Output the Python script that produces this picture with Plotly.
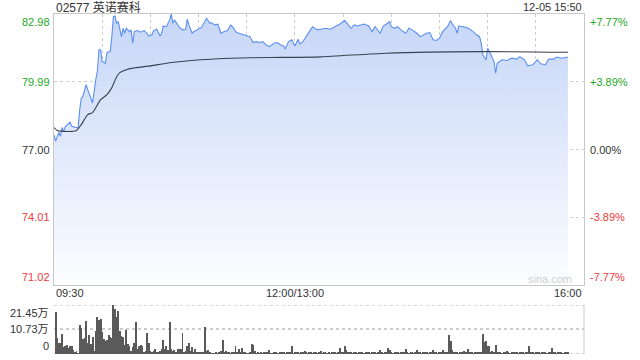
import plotly.graph_objects as go

# ---------------- data ----------------
prev_close = 77.00
y_ticks = [71.02, 74.01, 77.00, 79.99, 82.98]
pct_labels = ["-7.77%", "-3.89%", "0.00%", "+3.89%", "+7.77%"]
vol_ticks = [0, 10.73, 21.45]
vol_labels = ["0", "10.73万", "21.45万"]
x_labels = ["09:30", "12:00/13:00", "16:00"]

price_times = ["09:30","09:31","09:33","09:34","09:35","09:36","09:37","09:39","09:40","09:41","09:43","09:45",
 "09:46","09:47","09:48","09:50","09:51","09:53","09:54","09:56","09:57","09:58","09:59","10:00","10:02","10:03","10:05",
 "10:06","10:07","10:08","10:09","10:10","10:12","10:13","10:14","10:15","10:17","10:18","10:19","10:20","10:22","10:24","10:26","10:28","10:29",
 "10:31","10:32","10:34","10:36","10:37","10:38","10:40","10:42","10:43","10:44","10:45","10:47","10:48","10:50","10:52",
 "10:53","10:54","10:56","10:57","10:59","11:00","11:02","11:03","11:05","11:07","11:08","11:10","11:12","11:14","11:15","11:18","11:20","11:22","11:23","11:25",
 "11:28","11:30","11:32","11:34","11:36","11:38","11:40","11:42","11:44","11:47","11:49","11:51","11:53","11:54","11:56","11:58","12:00",
 "13:02","13:03","13:05","13:07","13:09","13:11","13:14","13:16",
 "13:19","13:22","13:25","13:28","13:31","13:33","13:35","13:37","13:39","13:43","13:46","13:48","13:50","13:53","13:55",
 "13:57","13:59","14:00","14:02","14:04","14:06","14:09","14:11","14:13","14:16","14:18","14:20","14:22","14:24","14:26","14:28","14:30",
 "14:32","14:35","14:37","14:38","14:40","14:41","14:42","14:45","14:48","14:51","14:53","14:55","14:56",
 "14:57","14:59","15:00","15:02","15:04","15:05","15:06","15:09","15:12","15:15","15:18","15:20","15:23","15:25","15:28","15:31","15:33",
 "15:36","15:38","15:41","15:43","15:46","15:50"]

prices = [77.66,77.37,77.75,77.58,77.97,77.80,78.00,78.14,78.20,78.02,77.98,77.95,
 78.76,79.27,79.34,79.86,79.64,79.23,79.05,80.08,80.44,81.40,81.40,80.88,80.81,81.28,81.32,
 81.98,82.86,82.89,82.57,82.64,81.98,82.35,82.13,82.35,82.20,82.28,81.69,82.20,82.25,82.18,82.25,82.13,82.01,
 82.06,82.25,82.31,82.01,82.13,82.45,82.42,82.72,82.98,82.57,82.72,82.50,82.40,82.28,82.31,
 82.75,82.50,82.13,82.20,82.28,82.31,82.40,82.54,82.79,82.57,82.60,82.50,82.53,82.13,82.18,82.25,82.50,82.35,82.20,82.13,
 82.06,82.01,81.98,81.72,81.76,81.72,81.76,81.62,81.54,81.69,81.72,81.62,81.57,81.43,81.76,81.84,81.57,
 81.87,81.66,81.76,81.96,82.20,82.42,82.28,82.31,
 82.35,82.31,82.42,82.54,82.69,82.54,82.35,82.50,82.45,82.54,82.45,82.20,82.42,82.13,82.45,
 82.54,82.64,82.42,82.35,82.42,82.28,82.13,82.35,82.28,82.13,81.98,82.06,82.13,82.16,81.84,81.81,81.91,
 82.20,82.42,82.69,82.54,82.35,82.13,82.45,82.42,82.35,82.20,82.06,81.98,81.69,
 81.18,80.96,81.47,81.18,80.88,80.37,80.81,80.96,80.93,81.03,80.99,81.10,80.96,80.69,80.74,80.96,80.78,
 80.74,80.99,80.99,81.08,81.03,81.08]

avg_times = ["09:30","09:32","09:36","09:44","09:47","09:51","09:54","09:59","10:03","10:06","10:09","10:11",
 "10:15","10:19","10:30","10:42","11:01","11:21","11:43","13:16","13:57","14:55","15:50"]
avg_prices = [77.97,77.84,77.80,77.84,78.10,78.54,78.63,79.20,79.42,79.73,80.21,80.39,
 80.52,80.59,80.69,80.83,80.96,81.03,81.06,81.09,81.25,81.32,81.29]

# volume per minute (万), one bar per trading minute from 09:31
volumes = [
 18.2,6.9,5.0,4.6,8.6,3.1,3.6,4.0,2.6,3.6, 3.6,1.7,0.7,1.3,0.4,12.9,11.2,6.4,7.2,14.6,
 4.7,8.2,4.3,7.6,1.4,10.0,16.0,14.7,15.4,9.6, 6.4,5.7,6.1,8.2,7.4,7.0,21.45,19.7,16.2,18.9,
 10.0,7.9,7.4,4.1,10.4,4.3,3.6,1.4,2.9,4.6, 13.9,2.1,3.6,3.9,3.6,1.0,1.4,9.3,5.0,1.4,
 1.0,1.4,2.4,1.0,0.7,1.4,2.4,6.0,2.1,3.6, 1.9,13.9,2.1,1.4,1.9,1.0,2.1,2.4,
 2.4,9.0,1.0,1.4,3.6,5.0,1.4,2.9,1.0,2.1, 1.0,0.7,1.0,0.7,0.7,11.9,1.4,1.9,0.7,0.4,
 0.4,0.4,0.7,0.4,0.7,1.4,6.0,1.0,1.4,0.7, 0.7,0.4,0.7,0.7,3.6,0.7,2.1,0.7,2.6,0.7,
 0.7,0.4,0.4,0.7,4.3,3.9,1.4,0.4,0.7,0.4, 1.0,0.4,0.7,1.0,0.7,1.7,0.4,0.4,0.7,0.7,
 0.4,0.4,0.7,0.7,1.0,0.4,0.7,1.0,0.7,3.6, 0.4,1.0,0.7,1.0,0.4,1.0,0.7,1.4,
 0.7,0.4,1.0,0.7,0.4,0.7,1.0,0.4,0.7,1.2, 0.4,0.7,1.0,0.4,0.7,0.4,0.7,1.0,0.7,0.4,
 0.7,2.6,1.0,0.7,3.3,1.9,0.7,1.0,0.7,0.4, 0.7,1.0,0.4,0.7,0.7,1.0,0.4,0.7,1.0,0.7,
 0.4,0.7,1.0,0.7,0.4,1.0,1.6,0.7,0.4,0.7, 0.7,2.6,1.6,0.7,0.4,1.0,0.7,1.0,0.4,0.7,
 1.0,0.7,2.2,0.7,0.4,0.7,1.0,0.4,0.7,1.6, 0.7,1.0,0.4,0.7,1.0,0.7,0.4,1.0,0.7,1.9,
 0.7,1.0,0.4,1.0,0.7,1.6,0.7,1.0,0.7,8.4, 5.8,1.9,0.7,1.0,0.7,0.4,1.0,0.7,1.4,0.7,
 1.0,2.2,0.7,1.0,0.4,0.7,1.0,0.7,0.7,1.0, 8.8,5.1,5.5,3.6,3.3,1.0,1.4,0.7,4.1,1.0,
 0.7,1.0,0.4,0.7,1.0,1.4,0.7,0.4,1.0,0.7, 0.7,1.0,0.4,0.7,1.0,0.7,0.4,1.0,0.7,3.6,
 1.0,0.7,0.4,1.0,0.7,1.0,0.4,0.7,1.0,0.7, 0.4,0.7,1.0,2.6,0.7,1.0,0.4,0.7,1.0,0.7,
 0.4,1.0,0.7,0.7]

# ---------------- helpers ----------------
def tmin(s):
    h, m = map(int, s.split(":"))
    mm = h * 60 + m
    if mm <= 12 * 60:
        return mm - (9 * 60 + 30)
    return mm - 13 * 60 + 150

def session_minutes(n):
    out = []
    for mm in list(range(9 * 60 + 31, 12 * 60 + 1)) + list(range(13 * 60 + 1, 16 * 60 + 1)):
        out.append("%02d:%02d" % (mm // 60, mm % 60))
    return out[:n]

px = [tmin(s) for s in price_times]
ax = [tmin(s) for s in avg_times]
vx = [tmin(s) for s in session_minutes(len(volumes))]

FONT = "Arial, Liberation Sans, Noto Sans CJK SC, sans-serif"
GREEN = "#1ea81e"
RED = "#f03a3a"
TXT = "#333333"
GRID = "#cccccc"

fig = go.Figure()

# fill baseline
fig.add_trace(go.Scatter(x=px, y=[y_ticks[0]] * len(px), mode="lines",
                         line=dict(width=0, color="rgba(0,0,0,0)"), hoverinfo="skip",
                         showlegend=False, xaxis="x", yaxis="y"))
fig.add_trace(go.Scatter(x=px, y=prices, mode="lines", fill="tonexty",
                         fillgradient=dict(type="vertical", start=y_ticks[0], stop=y_ticks[-1],
                                           colorscale=[[0, "rgba(252,253,255,1)"], [1, "rgba(198,214,247,1)"]]),
                         line=dict(color="#5b8ff0", width=1.1), showlegend=False,
                         xaxis="x", yaxis="y"))
fig.add_trace(go.Scatter(x=ax, y=avg_prices, mode="lines", line=dict(color="#3a4150", width=1.1, shape="spline", smoothing=0.6),
                         showlegend=False, xaxis="x", yaxis="y"))
fig.add_trace(go.Bar(x=vx, y=volumes, width=0.6, marker=dict(color="#5a5a5a", line=dict(width=0)),
                     showlegend=False, xaxis="x2", yaxis="y3"))

main_dom = [1 - 285 / 360, 1 - 14 / 360]
vol_dom = [1 - 354 / 360, 1 - 305 / 360]

fig.update_layout(
    width=640, height=360, margin=dict(l=54, r=56, t=0, b=0),
    paper_bgcolor="white", plot_bgcolor="rgba(0,0,0,0)",
    font=dict(family=FONT, size=11, color=TXT),
    bargap=0,
    xaxis=dict(domain=[0, 1], range=[0, 330], tickvals=list(range(0, 331, 30)), showticklabels=False,
               showgrid=True, gridcolor=GRID, griddash="dot", gridwidth=1, zeroline=False,
               showline=True, linecolor="#c8c8c8", linewidth=1, mirror=True, ticks="", anchor="y"),
    yaxis=dict(domain=main_dom, range=[y_ticks[0], y_ticks[-1]], tickvals=y_ticks[1:-1], showticklabels=False,
               showgrid=True, gridcolor=GRID, griddash="dot", zeroline=False,
               showline=True, linecolor="#c8c8c8", linewidth=1, mirror=True, ticks="", anchor="x"),
    xaxis2=dict(domain=[0, 1], range=[0, 330], showticklabels=False, showgrid=False, zeroline=False,
                showline=False, anchor="y3"),
    yaxis3=dict(domain=vol_dom, range=[0, 21.45], tickvals=vol_ticks, showticklabels=False,
                showgrid=True, gridcolor=GRID, griddash="dot", gridwidth=1.5, zeroline=False, showline=False, anchor="x2"),
    showlegend=False,
)

# right border and top/bottom dotted lines of volume panel
fig.add_shape(type="line", xref="paper", yref="paper", x0=1, x1=1, y0=vol_dom[0], y1=vol_dom[1],
              line=dict(color="#c8c8c8", width=1))
for v in (vol_ticks[0], vol_ticks[-1]):
    fig.add_shape(type="line", xref="paper", yref="y3", x0=0, x1=1, y0=v, y1=v,
                  line=dict(color=GRID, width=1.5, dash="dot"), layer="below")

ann = []
def px2x(p):
    return (p - 54) / 530.0

# left price labels and right percent labels
for i, (v, pl) in enumerate(zip(y_ticks, pct_labels)):
    col = RED if v < prev_close else (GREEN if v > prev_close else TXT)
    ya = "bottom" if i == 0 else ("top" if i == len(y_ticks) - 1 else "middle")
    ann.append(dict(x=px2x(52), y=v, xref="paper", yref="y", text="%.2f" % v, showarrow=False,
                    xanchor="right", yanchor=ya, font=dict(color=col, size=11)))
    ann.append(dict(x=px2x(588), y=v, xref="paper", yref="y", text=pl, showarrow=False,
                    xanchor="left", yanchor=ya, font=dict(color=col, size=11)))

# volume labels
for i, (v, vl) in enumerate(zip(vol_ticks, vol_labels)):
    ya = "bottom" if i == 0 else ("top" if i == len(vol_ticks) - 1 else "middle")
    ann.append(dict(x=px2x(51), y=v, xref="paper", yref="y3", text=vl, showarrow=False,
                    xanchor="right", yanchor=ya, font=dict(color=TXT, size=11)))

# time labels
ann.append(dict(x=0, y=1 - 293 / 360, xref="paper", yref="paper", text=x_labels[0], showarrow=False,
                xanchor="left", yanchor="middle", font=dict(size=11)))
ann.append(dict(x=150, y=1 - 293 / 360, xref="x", yref="paper", text=x_labels[1], showarrow=False,
                xanchor="center", yanchor="middle", font=dict(size=11)))
ann.append(dict(x=1, y=1 - 293 / 360, xref="paper", yref="paper", text=x_labels[2], showarrow=False,
                xanchor="right", yanchor="middle", font=dict(size=11)))

# header
ann.append(dict(x=0, y=1 - 7 / 360, xref="paper", yref="paper", text="02577 英诺赛科", showarrow=False,
                xanchor="left", yanchor="middle", font=dict(size=12, color=TXT)))
ann.append(dict(x=1, y=1 - 7 / 360, xref="paper", yref="paper", text="12-05 15:50", showarrow=False,
                xanchor="right", yanchor="middle", font=dict(size=11, color=TXT)))
# watermark
ann.append(dict(x=px2x(574), y=1 - 279 / 360, xref="paper", yref="paper", text="sina.com", showarrow=False,
                xanchor="right", yanchor="middle", font=dict(size=11, color="#cfcfcf")))

fig.update_layout(annotations=ann)
fig.write_html("out.html")
